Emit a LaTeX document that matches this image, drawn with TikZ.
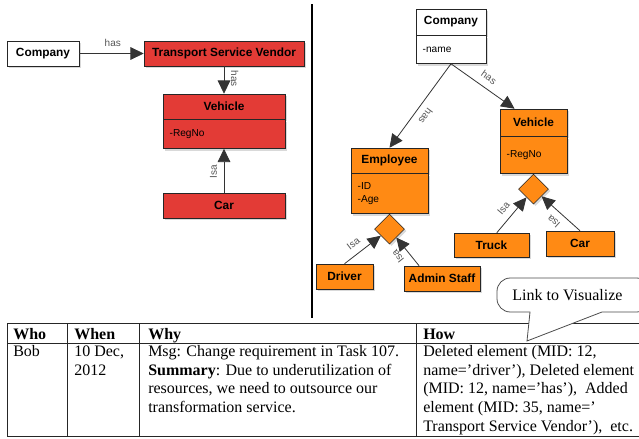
\documentclass[tikz,border=0pt]{standalone}
\usepackage{fontspec}
\setmainfont{Liberation Serif}
\setsansfont{Liberation Sans}
\definecolor{umlred}{HTML}{E33B36}
\definecolor{umlorange}{HTML}{FF8A14}
\definecolor{lblgray}{HTML}{555555}
\usetikzlibrary{shapes.geometric,arrows.meta,positioning,calc,shadows}

\begin{document}
\begin{tikzpicture}[
  x=0.75pt, y=-0.75pt,
  cls/.style={draw=black!85, fill=#1, inner sep=0pt,
    drop shadow={shadow xshift=1.5pt, shadow yshift=-1.5pt, opacity=0.3},
    font=\sffamily\bfseries\fontsize{8.9}{10}\selectfont, minimum height=18.75pt},
  attr/.style={draw=black!85, fill=#1, inner xsep=5pt, inner ysep=0pt, align=left,
    drop shadow={shadow xshift=1.5pt, shadow yshift=-1.5pt, opacity=0.3},
    font=\sffamily\fontsize{7.6}{9.5}\selectfont},
  isa/.style={diamond, aspect=1, draw=black!85, fill=umlorange, inner sep=0pt,
    minimum width=22.5pt, minimum height=22.5pt,
    drop shadow={shadow xshift=1.5pt, shadow yshift=-1.5pt, opacity=0.3}},
  arr/.style={-{Triangle[length=10pt,width=9.5pt]}, draw=black!80, line width=0.6pt},
  lbl/.style={font=\sffamily\fontsize{7.5}{8}\selectfont, text=lblgray,
    sloped, allow upside down, above=4pt, inner sep=1pt},
  tbl/.style={draw=black!85, line width=0.75pt},
  cell/.style={anchor=north west, inner sep=0pt, align=left,
    font=\fontsize{12}{14}\selectfont},
  head/.style={anchor=base west, inner sep=0pt, font=\bfseries\fontsize{12}{14}\selectfont},
  bubble/.style={draw=black!70, fill=white, line width=0.6pt}
]
  \useasboundingbox (0,0) rectangle (639,439);

  % Left model
  \node[cls=white, minimum width=54pt] (comp1) at (43,53.5) {Company};
  \node[cls=umlred, minimum width=120pt] (tsv) at (224,53.5) {Transport Service Vendor};
  \node[cls=umlred, minimum width=91.5pt] (veh1) at (224,106.5) {Vehicle};
  \node[attr=umlred, text width=81.5pt, minimum height=21.75pt, below=0pt of veh1] (veh1attr) {-RegNo};
  \node[cls=umlred, minimum width=91.5pt] (car1) at (224,205.5) {Car};

  \draw[arr] (comp1) -- node[lbl, pos=0.52] {has} (tsv);
  \draw[arr] (tsv) -- node[lbl, pos=0.46] {has} (veh1);
  \draw[arr] (car1) -- node[lbl, pos=0.47] {Isa} (veh1attr);

  % Separator
  \draw[line width=1.6pt] (312,4) -- (312,318);

  % Right model
  \node[cls=white, minimum width=52.5pt, minimum height=19.5pt] (comp2) at (451,22) {Company};
  \node[attr=white, text width=42.5pt, minimum height=21pt, below=0pt of comp2] (comp2attr) {-name};
  \node[cls=umlorange, minimum width=57.75pt] (emp) at (389.5,160.5) {Employee};
  \node[attr=umlorange, text width=47.75pt, minimum height=30pt, below=0pt of emp] (empattr) {-ID\\-Age};
  \node[isa, below=0pt of empattr] (empdia) {};
  \node[cls=umlorange, minimum width=50.25pt, minimum height=20.25pt] (veh2) at (533.5,122.5) {Vehicle};
  \node[attr=umlorange, text width=40.25pt, minimum height=27.75pt, below=0pt of veh2] (veh2attr) {-RegNo};
  \node[isa, below=0pt of veh2attr] (vehdia) {};
  \node[cls=umlorange, minimum width=56.25pt, minimum height=18pt] (truck) at (491.5,245) {Truck};
  \node[cls=umlorange, minimum width=51pt] (car2) at (580,243.5) {Car};
  \node[cls=umlorange, minimum width=42.75pt] (driver) at (344.5,276.5) {Driver};
  \node[cls=umlorange, minimum width=57pt] (admin) at (442,278.5) {Admin Staff};

  \draw[arr] (comp2attr.south) -- node[lbl, pos=0.55] {has} (emp.north);
  \draw[arr] (comp2attr.south) -- node[lbl, pos=0.5] {has} ($(veh2.north west)!0.22!(veh2.north east)$);
  \draw[arr] ($(truck.north west)!0.57!(truck.north east)$) -- node[lbl, pos=0.5] {Isa} (vehdia);
  \draw[arr] (car2.north) -- node[lbl, pos=0.5] {Isa} (vehdia);
  \draw[arr] (driver.north) -- node[lbl, pos=0.42] {Isa} (empdia);
  \draw[arr] ($(admin.north west)!0.2!(admin.north east)$) -- node[lbl, pos=0.57] {Isa} (empdia);

  % Change log table
  \draw[tbl] (7,323) -- (645,323) (7,343) -- (645,343) (7,436) -- (645,436);
  \foreach \cx in {7,67,139,416}
    \draw[tbl] (\cx,323) -- (\cx,436);

  \node[head] (who) at (13,339) {Who};
  \node[head] (when) at (74,339) {When};
  \node[head] (why) at (148,339) {Why};
  \node[head] (how) at (423,339) {How};

  \node[cell] (bob) at (13,343) {\strut Bob};
  \node[cell] (date) at (74,343) {\strut 10 Dec,\\2012};
  \node[cell] (msg) at (148,343) {\strut Msg: Change requirement in Task 107.\\
    \textbf{Summary}: Due to underutilization of\\
    resources, we need to outsource our\\
    transformation service.};
  \node[cell] (edits) at (423,343) {\strut Deleted element (MID: 12,\\
    name=’driver’), Deleted element\\
    (MID: 12, name=’has’),~ Added\\
    element (MID: 35, name=’\\
    Transport Service Vendor’),~ etc.};

  % Callout
  \draw[bubble] (527,341) -- (602,312) [rounded corners=10pt] -- (650,312) -- (650,278)
    -- (497,278) -- (497,312) [sharp corners] -- (530,312) -- cycle;
  \node[font=\fontsize{12}{14}\selectfont, inner sep=0pt] (link) at (567.5,295) {Link to Visualize};
\end{tikzpicture}
\end{document}
